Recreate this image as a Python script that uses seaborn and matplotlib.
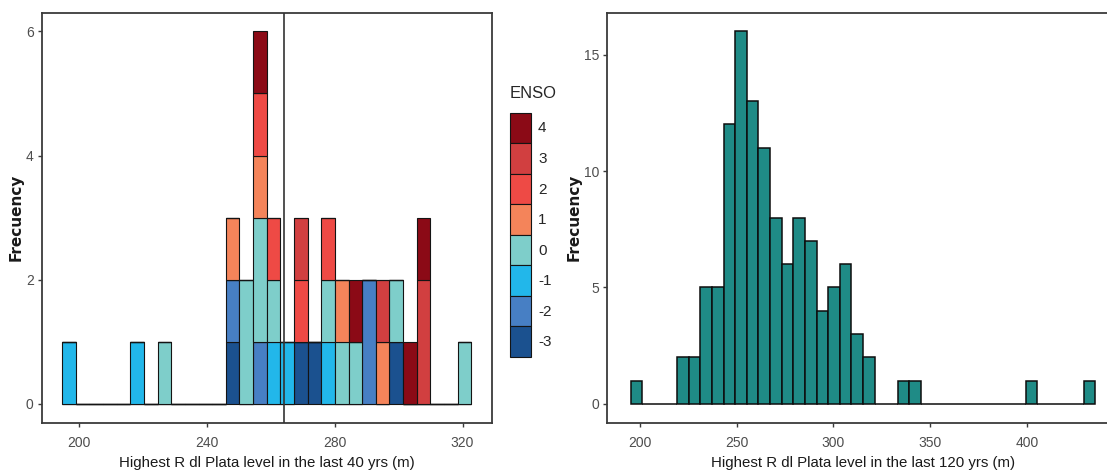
import numpy as np
import pandas as pd
import matplotlib
matplotlib.use("Agg")
import matplotlib.pyplot as plt
import seaborn as sns

# ---------------- data ----------------
# Left panel: highest Rio de la Plata level per year (last 40 yrs) and ENSO category
level_40yrs = [196.8, 218, 227, 248, 248, 248, 252, 252, 257, 257, 257, 257, 257, 257,
               261, 261, 261, 265, 269, 269, 269, 274, 278, 278, 278, 282, 282, 286, 286,
               291, 291, 295, 295, 299, 299, 304, 308, 308, 308, 320.6]
enso_40yrs = [-1, -1, 0, -3, -2, 1, 0, 0, -2, 0, 0, 1, 2, 4,
              -1, 0, 2, -1, -3, 2, 3, -3, -1, 0, 2, 0, 1, 0, 4,
              -2, -2, 1, 3, -3, 0, 4, 3, 3, 4, 0]
enso_levels = ["4", "3", "2", "1", "0", "-1", "-2", "-3"]
enso_colors = ["#8B0A16", "#D13F40", "#EE4A45", "#F4845A",
               "#7ECECA", "#22B7EA", "#477FC4", "#1B518F"]
threshold_40 = 264
x_ticks_40 = [200, 240, 280, 320]
y_ticks_40 = [0, 2, 4, 6]

# Right panel: histogram counts (40 bins) over the last 120 yrs
counts_120 = [1, 0, 0, 0, 2, 2, 5, 5, 12, 16, 13, 11, 8, 6, 8, 7, 4, 5, 6, 3,
              2, 0, 0, 1, 1, 0, 0, 0, 0, 0, 0, 0, 0, 0, 1, 0, 0, 0, 0, 1]
level_min_120 = 198.3
level_max_120 = 432.3
x_ticks_120 = [200, 250, 300, 350, 400]
y_ticks_120 = [0, 5, 10, 15]

xlabel_40 = "Highest R dl Plata level in the last 40 yrs (m)"
xlabel_120 = "Highest R dl Plata level in the last 120 yrs (m)"
ylabel = "Frecuency"

# ---------------- style ----------------
sns.set_theme(style="ticks")
plt.rcParams['font.family'] = ['Liberation Sans', 'DejaVu Sans']

W, H = 1107, 471
fig = plt.figure(figsize=(W / 100, H / 100), dpi=100)
ax1 = fig.add_axes([41.7 / W, 1 - 422.5 / H, 450 / W, 409.8 / H])
ax2 = fig.add_axes([607.3 / W, 1 - 422.5 / H, 511.4 / W, 409.8 / H])

# ----- left panel -----
df40 = pd.DataFrame({"level": level_40yrs, "ENSO": [str(v) for v in enso_40yrs]})
n_bins_40 = 30
bw40 = (max(level_40yrs) - min(level_40yrs)) / (n_bins_40 - 1)
br40 = (min(level_40yrs) - bw40 / 2, max(level_40yrs) + bw40 / 2)
sns.histplot(data=df40, x="level", hue="ENSO", hue_order=enso_levels,
             palette=dict(zip(enso_levels, enso_colors)), multiple="stack",
             bins=n_bins_40, binrange=br40, edgecolor="#141414", linewidth=0.8,
             alpha=1, ax=ax1, legend=True)
ax1.axvline(threshold_40, color="#333333", lw=1.2, zorder=5)
span = br40[1] - br40[0]
ax1.set_xlim(br40[0] - 0.05 * span, br40[1] + 0.05 * span)
ax1.set_ylim(-0.3, 6.3)
ax1.set_xticks(x_ticks_40)
ax1.set_yticks(y_ticks_40)

# ----- right panel -----
centers_120 = np.linspace(level_min_120, level_max_120, len(counts_120))
bw120 = (level_max_120 - level_min_120) / (len(counts_120) - 1)
br120 = (level_min_120 - bw120 / 2, level_max_120 + bw120 / 2)
sns.histplot(x=centers_120, weights=counts_120, bins=len(counts_120), binrange=br120,
             color="#1F8B86", edgecolor="#0d0d0d", linewidth=1.1, alpha=1, ax=ax2)
span = br120[1] - br120[0]
ax2.set_xlim(br120[0] - 0.05 * span, br120[1] + 0.05 * span)
ax2.set_ylim(-0.05 * max(counts_120), 1.05 * max(counts_120))
ax2.set_xticks(x_ticks_120)
ax2.set_yticks(y_ticks_120)

for ax, xl in ((ax1, xlabel_40), (ax2, xlabel_120)):
    for s in ax.spines.values():
        s.set_visible(True)
        s.set_color("#3a3a3a")
        s.set_linewidth(1.3)
    ax.tick_params(direction="out", length=2.8, width=1.0, color="#3a3a3a",
                   labelsize=10, labelcolor="#4D4D4D", pad=3)
    ax.tick_params(axis="x", pad=7)
    ax.set_xlabel(xl, fontsize=10.8, color="#1a1a1a", labelpad=4)
    ax.set_ylabel(ylabel, fontsize=11, fontweight="bold", family="DejaVu Sans",
                  color="#1a1a1a", labelpad=1.5)
    ax.grid(False)

# legend
sns.move_legend(ax1, loc="upper left", bbox_to_anchor=(1.04, 0.82), frameon=False,
                title="ENSO", borderpad=0, borderaxespad=0, labelspacing=0,
                handlelength=1.4, handleheight=2.7, handletextpad=0.45,
                fontsize=11, title_fontsize=12)
leg = ax1.get_legend()
leg._legend_box.align = "left"
leg._legend_box.sep = 8
for p in leg.get_patches():
    p.set_edgecolor("#141414")
    p.set_linewidth(0.8)

fig.savefig("out.png", dpi=100)
